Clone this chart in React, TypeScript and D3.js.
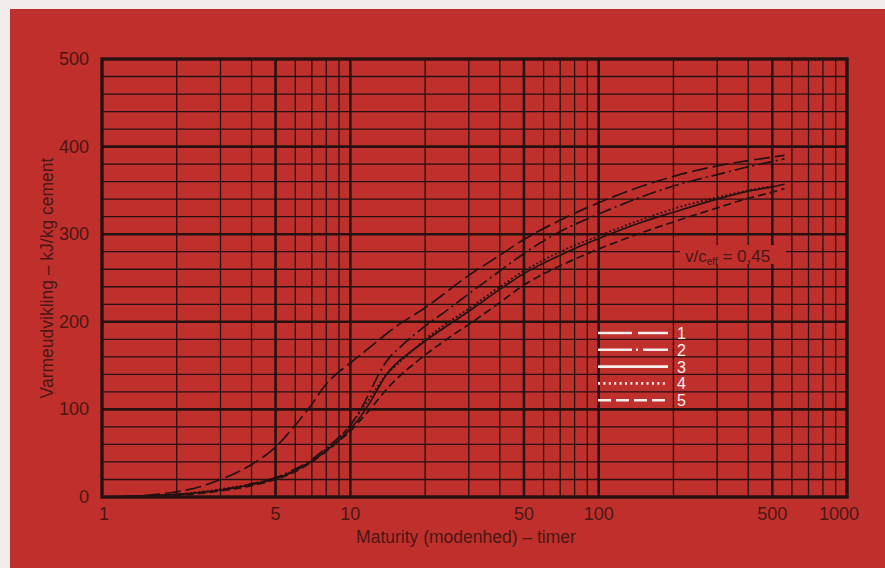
import React from 'react';
import * as d3 from 'd3';

// maturity (timer) and heat release (kJ/kg cement) per curve
const hours1 = [1, 1.5, 2, 2.5, 3, 4, 5, 6, 7, 8, 9, 10, 12, 15, 20, 30, 40, 50, 70, 100, 150, 200, 300, 400, 500, 560];
const heat1 = [0, 2, 6, 12, 20, 37, 57, 82, 106, 129, 143, 153, 171, 193, 216, 253, 276, 294, 316, 336, 355, 366, 378, 384, 388, 390];

const hours2 = [1, 2, 3, 4, 5, 6, 7, 8, 9, 10, 11, 12, 13, 14, 16, 20, 25, 30, 40, 50, 70, 100, 150, 200, 300, 400, 500, 560];
const heat2 = [0, 3, 8, 15, 22, 32, 43, 56, 68, 82, 100, 120, 140, 155, 172, 195, 215, 232, 258, 278, 303, 323, 343, 355, 368, 377, 383, 386];

const hours3 = [1, 2, 3, 4, 5, 6, 7, 8, 9, 10, 11, 12, 13, 14, 15, 17, 20, 25, 30, 40, 50, 70, 100, 150, 200, 300, 400, 500, 560];
const heat3 = [0, 3, 8, 14, 21, 30, 41, 53, 65, 78, 92, 108, 125, 140, 150, 163, 178, 197, 212, 237, 255, 276, 295, 314, 325, 340, 349, 354, 357];

const hours4 = [1, 2, 3, 4, 5, 6, 7, 8, 9, 10, 11, 12, 13, 14, 15, 17, 20, 25, 30, 40, 50, 70, 100, 150, 200, 300, 400, 500];
const heat4 = [0, 3, 9, 15, 22, 31, 42, 55, 68, 82, 98, 113, 128, 140, 148, 162, 180, 200, 215, 240, 258, 280, 298, 317, 329, 342, 350, 355];

const hours5 = [1, 2, 3, 4, 5, 6, 7, 8, 9, 10, 11, 12, 13, 14, 15, 17, 20, 25, 30, 40, 50, 70, 100, 150, 200, 300, 400, 500, 560];
const heat5 = [0, 2, 7, 13, 20, 29, 40, 52, 64, 75, 88, 100, 112, 123, 132, 146, 162, 182, 197, 222, 242, 264, 283, 302, 314, 330, 341, 348, 352];

const seriesNames = ['1', '2', '3', '4', '5'];
const xTickLabels = [1, 5, 10, 50, 100, 500, 1000];
const yTickLabels = [0, 100, 200, 300, 400, 500];

const series = [
  {name: seriesNames[0], hours: hours1, heat: heat1, dash: '16,5', legendDash: '34,6'},
  {name: seriesNames[1], hours: hours2, heat: heat2, dash: '14,4,2,4', legendDash: '34,4,2,5'},
  {name: seriesNames[2], hours: hours3, heat: heat3, dash: null, legendDash: null},
  {name: seriesNames[3], hours: hours4, heat: heat4, dash: '2,2.2', legendDash: '2,3.4'},
  {name: seriesNames[4], hours: hours5, heat: heat5, dash: '8,4', legendDash: '13,5'}
];

const W = 885, H = 568;
const bg = '#bf302c';
const ink = '#261110';
const labelInk = '#4c1713';
const font = '"Liberation Sans", Arial, sans-serif';

export default function App() {
  const x = d3.scaleLog().domain([1, 1000]).range([102, 847]);
  const y = d3.scaleLinear().domain([0, 500]).range([497, 59]);

  const vLines: number[] = [];
  [1, 10, 100].forEach(d => { for (let i = 1; i <= 9; i++) vLines.push(d * i); });
  const heavyV = [5, 10, 50, 100, 500];
  const hLines = d3.range(20, 500, 20);

  const line = d3.line<[number, number]>()
    .x(d => x(d[0]))
    .y(d => y(d[1]))
    .curve(d3.curveMonotoneX);

  const legendX0 = 598, legendX1 = 668, legendY0 = 333, legendStep = 16.8;

  return (
    <svg width={W} height={H} style={{position: 'absolute', left: 0, top: 0}}>
      <rect x={0} y={0} width={W} height={H} fill="#f3ecec"/>
      <rect x={10} y={9} width={W - 10} height={H - 9} fill={bg}/>

      {/* grid */}
      {hLines.map(v => (
        <line key={'h' + v} x1={x(1)} x2={x(1000)} y1={y(v)} y2={y(v)}
          stroke={ink} strokeWidth={v % 100 === 0 ? 2.6 : 1.3}/>
      ))}
      {vLines.filter(t => t > 1).map(t => (
        <line key={'v' + t} x1={x(t)} x2={x(t)} y1={y(0)} y2={y(500)}
          stroke={ink} strokeWidth={heavyV.includes(t) ? 2.6 : 1.3}/>
      ))}
      <rect x={x(1)} y={y(500)} width={x(1000) - x(1)} height={y(0) - y(500)}
        fill="none" stroke={ink} strokeWidth={3.4}/>

      {/* curves */}
      {series.map(s => (
        <path key={s.name} d={line(s.hours.map((h, i) => [h, s.heat[i]] as [number, number])) || ''}
          fill="none" stroke={ink} strokeWidth={1.7}
          strokeDasharray={s.dash || undefined}/>
      ))}

      {/* v/c label */}
      <rect x={680} y={245} width={106} height={19} fill={bg}/>
      <text x={685} y={262} fontFamily={font} fontSize={17} fill={labelInk}>
        v/c<tspan fontSize={10} dy={3}>eff</tspan><tspan dy={-3}> = 0,45</tspan>
      </text>

      {/* legend */}
      {series.map((s, i) => (
        <g key={'lg' + s.name}>
          <line x1={legendX0} x2={legendX1} y1={legendY0 + i * legendStep} y2={legendY0 + i * legendStep}
            stroke="#f6ecea" strokeWidth={2.6} strokeDasharray={s.legendDash || undefined}/>
          <text x={677} y={legendY0 + i * legendStep + 6} fontFamily={font} fontSize={16} fill="#f6ecea">{s.name}</text>
        </g>
      ))}

      {/* axis labels */}
      {yTickLabels.map(v => (
        <text key={'yl' + v} x={89} y={y(v) + 6} textAnchor="end" fontFamily={font} fontSize={18} fill={labelInk}>{v}</text>
      ))}
      {xTickLabels.map(t => (
        <text key={'xl' + t} x={x(t) + (t === 1 ? 2 : t === 1000 ? -8 : 0)} y={520} textAnchor="middle"
          fontFamily={font} fontSize={18} fill={labelInk}>{t}</text>
      ))}
      <text x={466} y={543} textAnchor="middle" fontFamily={font} fontSize={17.5} fill={labelInk}>
        Maturity (modenhed) – timer
      </text>
      <text transform="translate(53,278) rotate(-90)" textAnchor="middle" fontFamily={font} fontSize={17.5} fill={labelInk}>
        Varmeudvikling – kJ/kg cement
      </text>
    </svg>
  );
}
